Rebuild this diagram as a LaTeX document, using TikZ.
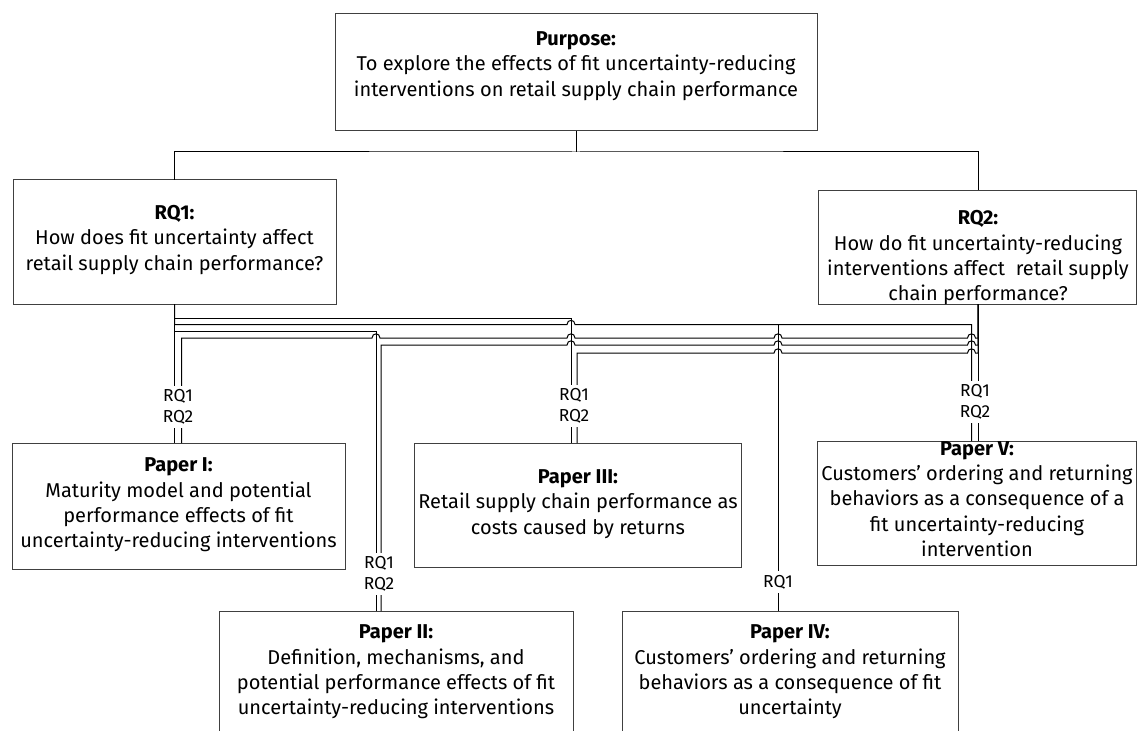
\documentclass[tikz,border=0pt]{standalone}
\usepackage{fontspec}
\setmainfont{Fira Sans}
\newcommand\hopR[2]{-- ({#1-4},#2) .. controls ({#1-4},{#2-5.5}) and ({#1+4},{#2-5.5}) .. ({#1+4},#2)}
\newcommand\hopL[2]{-- ({#1+4},#2) .. controls ({#1+4},{#2-5.5}) and ({#1-4},{#2-5.5}) .. ({#1-4},#2)}
\newcommand\boxnode[5]{\node[boxshape, minimum width={(#4-#2)*0.75pt}, minimum height={(#5-#3)*0.75pt}] (#1) at ({(#2+#4)/2},{(#3+#5)/2}) {};}
\tikzset{
  boxshape/.style={draw=black!75, line width=0.75pt, rectangle, inner sep=0pt, outer sep=0pt},
  boxtext/.style={align=center, inner sep=0pt, font=\fontsize{15}{19}\selectfont},
  rqlabel/.style={fill=white, align=center, inner sep=3pt, font=\fontsize{13}{15.75}\selectfont},
  conn/.style={draw=black, line width=0.75pt},
}
\begin{document}
\begin{tikzpicture}[x=0.75pt, y=-0.75pt]
\useasboundingbox (0,0) rectangle (1138,731);
\clip (0,0) rectangle (1138,731);
% boxes
\boxnode{purpose}{335}{14}{817}{131}
\boxnode{rqone}{13}{180}{336}{304}
\boxnode{rqtwo}{818}{190}{1136.5}{304}
\boxnode{pone}{12}{443}{345}{569}
\boxnode{pthree}{414}{443}{741}{567}
\boxnode{pfive}{817}{441}{1136.5}{565}
\boxnode{ptwo}{219}{611}{573}{745}
\boxnode{pfour}{622}{611}{958}{745}
% texts
\node[boxtext] (purposetxt) at (576,66) {\textbf{Purpose:}\\To explore the effects of fit uncertainty-reducing\\interventions on retail supply chain performance};
\node[boxtext] (rqonetxt) at (174.5,240) {\textbf{RQ1:}\\How does fit uncertainty affect\\retail supply chain performance?};
\node[boxtext] (rqtwotxt) at (978,258) {\textbf{RQ2:}\\How do fit uncertainty-reducing\\interventions affect~ retail supply\\chain performance?};
\node[boxtext] (ponetxt) at (178.5,505) {\textbf{Paper I:}\\Maturity model and potential\\performance effects of fit\\uncertainty-reducing interventions};
\node[boxtext] (pthreetxt) at (578,504) {\textbf{Paper III:}\\Retail supply chain performance as\\costs caused by returns};
\node[boxtext] (pfivetxt) at (977,499) {\textbf{Paper V:}\\Customers’ ordering and returning\\behaviors as a consequence of a\\fit uncertainty-reducing\\intervention};
\node[boxtext] (ptwotxt) at (396,672) {\textbf{Paper II:}\\Definition, mechanisms, and\\potential performance effects of fit\\uncertainty-reducing interventions};
\node[boxtext] (pfourtxt) at (790,672) {\textbf{Paper IV:}\\Customers’ ordering and returning\\behaviors as a consequence of fit\\uncertainty};
% top tree
\draw[conn] (purpose.south) -- (576,152) coordinate (tj);
\draw[conn] (rqone.north) |- (tj) -| (978,0 |- rqtwo.north);
% RQ1 connectors
\draw[conn] (rqone.south) -- (rqone.south |- pone.north);
\draw[conn] (rqone.south) |- (571,318) -- (571,0 |- pthree.north);
\draw[conn] (rqone.south) -- (174.5,324.5) \hopR{571}{324.5} -- (971.5,324.5) -- (971.5,0 |- pfive.north);
\coordinate (brfour) at (778,324.5);
\draw[conn] (brfour) -- (778,0 |- pfour.north);
\draw[conn] (rqone.south) |- (376,331) -- (376,0 |- ptwo.north);
% RQ2 connectors
\coordinate (rqtwoout) at (978,0 |- rqtwo.south);
\draw[conn] (rqtwoout) -- (978,0 |- pfive.north);
\draw[conn] (rqtwoout) -- (978,338) \hopL{971.5}{338} \hopL{778}{338} \hopL{571}{338} \hopL{376}{338} -- (181.5,338) -- (181.5,0 |- pone.north);
\draw[conn] (rqtwoout) -- (978,345) \hopL{971.5}{345} \hopL{778}{345} \hopL{571}{345} -- (381,345) -- (381,0 |- ptwo.north);
\draw[conn] (rqtwoout) -- (978,353) \hopL{971.5}{353} \hopL{778}{353} -- (577,353) -- (577,0 |- pthree.north);
% labels
\node[rqlabel] (lone) at (178,407) {RQ1\\RQ2};
\node[rqlabel] (ltwo) at (379,574) {RQ1\\RQ2};
\node[rqlabel] (lthree) at (574,406) {RQ1\\RQ2};
\node[rqlabel] (lfour) at (778,582) {RQ1};
\node[rqlabel] (lfive) at (975,402) {RQ1\\RQ2};
\end{tikzpicture}
\end{document}
